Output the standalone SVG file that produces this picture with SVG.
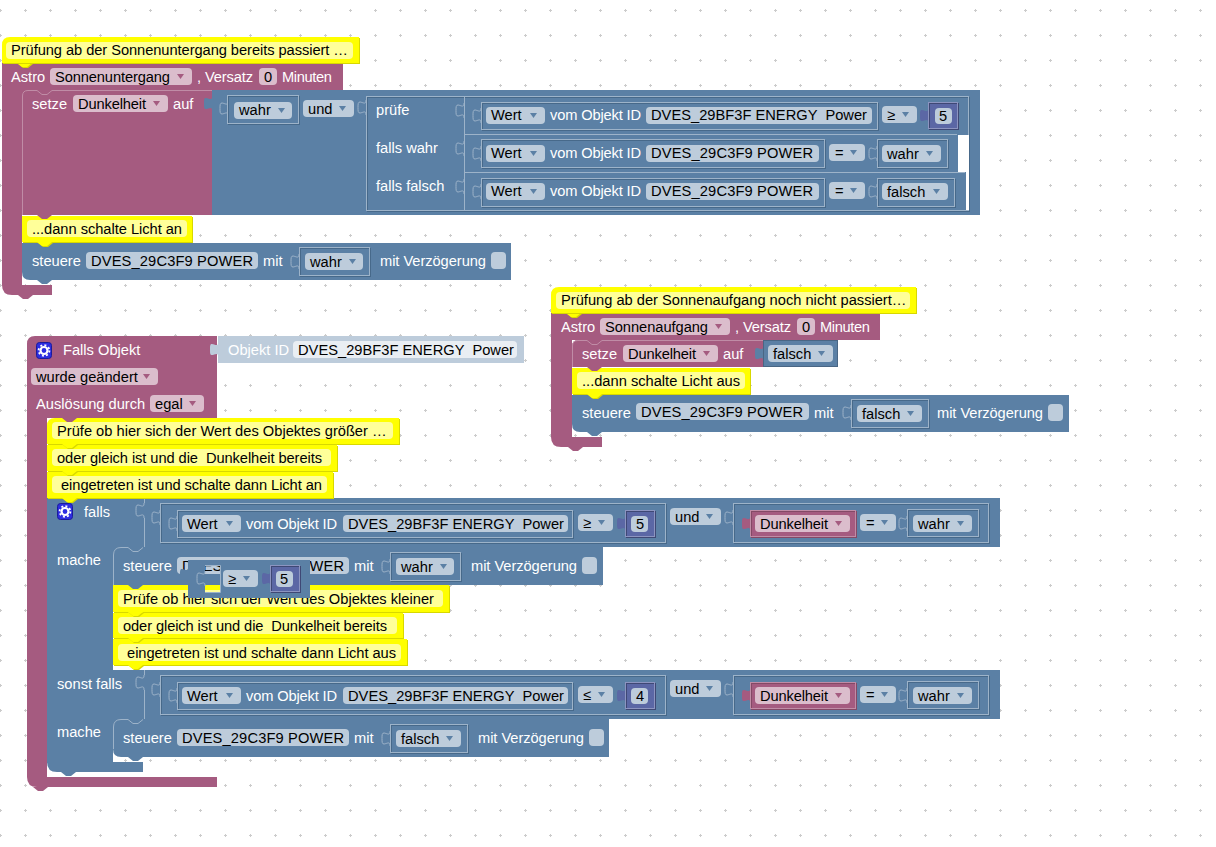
<svg xmlns="http://www.w3.org/2000/svg" width="1216" height="847" viewBox="0 0 1216 847">
<style>
text{font-family:"Liberation Sans",Arial,sans-serif;font-size:14.67px;white-space:pre}
.t{fill:#fff}.k{fill:#000}
.b{fill:#5b80a5}.p{fill:#a55b80}.i{fill:#5b67a5}.y{fill:#ff0;filter:drop-shadow(1px 1px 0 #d8d800)}.yi{fill:#ffff99}
.fb{fill:#bdccdb}.fp{fill:#dbbdcc}.fo{fill:#e9eef3}
.o{fill:none;stroke:#9db3c9;filter:drop-shadow(1px 1px 0 #47698a)}
.op{fill:none;stroke:#c08ca6;filter:drop-shadow(1px 1px 0 #844966)}
.oi{fill:none;stroke:#8c94c0;filter:drop-shadow(1px 1px 0 #3f4875)}
.s{fill:none;stroke:#9db3c9}.hp{fill:none;stroke:#c08ca6}
.ab{fill:#5b80a5}.ap{fill:#a55b80}
</style>
<defs>
<pattern id="g" x="-12" y="-2" width="25" height="25" patternUnits="userSpaceOnUse"><rect x="12" y="11" width="1" height="3" fill="#ccc"/><rect x="11" y="12" width="3" height="1" fill="#ccc"/></pattern>
<path id="t" d="M8 0V1C8 5 4 2 2 2C0 2 0 4 0 7.500C0 11 0 13 2 13C4 13 8 10 8 14V15"/>
<path id="n" d="M0 0l5 4h5l5-4z"/>
<polygon id="a" points="0,0 7,0 3.500,5"/>
<g id="gear"><rect x=".5" y=".5" width="15" height="16" rx="3" fill="#2d2de0" stroke="#1b1b9a"/><circle cx="8" cy="8.500" r="3.500" fill="none" stroke="#fff" stroke-width="2.200"/><circle cx="8" cy="8.500" r="5.400" fill="none" stroke="#fff" stroke-width="1.800" stroke-dasharray="2 2.200"/></g>
</defs>
<rect width="1216" height="847" fill="#fff"/>
<rect width="1216" height="847" fill="url(#g)"/>

<g id="astro-untergang">
<path class="p" d="M2 63H343V90H22V285H52V295H33l-5 4h-5l-5-4H12Q2 295 2 285Z"/>
<g id="comment-1"><use href="#n" x="17" y="63" class="y"/><path class="y" d="M10 37H359V63H2V45Q2 37 10 37Z"/><rect class="yi" x="6" y="42" width="347" height="17" rx="4"/><text class="k" x="11" y="55" textLength="337">Prüfung ab der Sonnenuntergang bereits passiert …</text></g>
<text class="t" x="11" y="82">Astro</text><rect class="fp" x="50" y="68" width="142" height="17" rx="4"/><text class="k" x="55" y="82" textLength="115">Sonnenuntergang</text><use href="#a" class="ap" x="177" y="74"/>
<text class="t" x="197" y="82" textLength="56">, Versatz</text><rect class="fp" x="259" y="68" width="18" height="17" rx="4"/><text class="k" x="264" y="82">0</text><text class="t" x="282" y="82" textLength="50">Minuten</text>
</g>
<g id="setze-1">
<rect class="p" x="22" y="90" width="190" height="125"/>
<path class="hp" d="M22.500 215V96Q22.500 90.500 28 90.500H37l5 4h5l5-4H212"/>
<text class="t" x="32" y="109">setze</text><rect class="fp" x="73" y="95" width="95" height="17" rx="4"/><text class="k" x="78" y="109" textLength="68">Dunkelheit</text><use href="#a" class="ap" x="153" y="101"/><text class="t" x="173" y="109">auf</text>
<use href="#t" x="204" y="96" class="b"/>
<rect class="b" x="212" y="90" width="768" height="125"/>
<use href="#t" x="220" y="101" class="s"/><rect class="o" x="227.500" y="95.500" width="71" height="28"/><rect class="fb" x="234" y="102" width="58" height="17" rx="4"/><text class="k" x="239" y="115">wahr</text><use href="#a" class="ab" x="278" y="108"/>
<rect class="fb" x="303" y="100" width="51" height="17" rx="4"/><text class="k" x="308" y="114">und</text><use href="#a" class="ab" x="339" y="106"/>
<use href="#t" x="358" y="100" class="s"/>
<rect class="o" x="366.500" y="96.500" width="602" height="114"/>
<rect x="958" y="135" width="11" height="37" fill="#fff"/><rect x="966" y="172" width="3" height="38" fill="#fff"/>
<path class="s" d="M464.500 96V211M464 134.500H957M464 172.500H965"/>
<text class="t" x="376" y="115">prüfe</text><text class="t" x="376" y="153">falls wahr</text><text class="t" x="376" y="191">falls falsch</text>
<use href="#t" x="456" y="103" class="s"/><use href="#t" x="456" y="141" class="s"/><use href="#t" x="456" y="179" class="s"/>
<use href="#t" x="473" y="108" class="s"/><use href="#t" x="473" y="146" class="s"/><use href="#t" x="473" y="184" class="s"/>
<rect class="o" x="481.500" y="102.500" width="396" height="27"/><rect class="fb" x="486" y="107" width="59" height="17" rx="4"/><text class="k" x="491" y="120">Wert</text><use href="#a" class="ab" x="530" y="113"/><text class="t" x="550" y="120" textLength="91">vom Objekt ID</text><rect class="fb" x="646" y="107" width="226" height="17" rx="4"/><text class="k" x="651" y="120" textLength="216">DVES_29BF3F ENERGY  Power</text>
<rect class="fb" x="882" y="106" width="35" height="17" rx="4"/><text class="k" x="887" y="120">≥</text><use href="#a" class="ab" x="902" y="112"/>
<use href="#t" x="920" y="108" class="i"/><rect class="i" x="928" y="102" width="30" height="27"/><rect class="oi" x="928.500" y="102.500" width="29" height="26"/><rect class="fb" x="935" y="108" width="17" height="16" rx="4"/><text class="k" x="939" y="121">5</text>
<rect class="o" x="481.500" y="139.500" width="343" height="28"/><rect class="fb" x="486" y="145" width="59" height="17" rx="4"/><text class="k" x="491" y="158">Wert</text><use href="#a" class="ab" x="530" y="151"/><text class="t" x="550" y="158" textLength="91">vom Objekt ID</text><rect class="fb" x="646" y="145" width="173" height="17" rx="4"/><text class="k" x="651" y="158" textLength="162">DVES_29C3F9 POWER</text>
<rect class="fb" x="829" y="144" width="36" height="17" rx="4"/><text class="k" x="835" y="158">=</text><use href="#a" class="ab" x="850" y="150"/>
<use href="#t" x="869" y="146" class="s"/><rect class="o" x="877.500" y="139.500" width="70" height="28"/><rect class="fb" x="882" y="145" width="59" height="17" rx="4"/><text class="k" x="887" y="159">wahr</text><use href="#a" class="ab" x="926" y="151"/>
<rect class="o" x="481.500" y="178.500" width="343" height="28"/><rect class="fb" x="486" y="183" width="59" height="17" rx="4"/><text class="k" x="491" y="196">Wert</text><use href="#a" class="ab" x="530" y="189"/><text class="t" x="550" y="196" textLength="91">vom Objekt ID</text><rect class="fb" x="646" y="183" width="173" height="17" rx="4"/><text class="k" x="651" y="196" textLength="162">DVES_29C3F9 POWER</text>
<rect class="fb" x="829" y="182" width="36" height="17" rx="4"/><text class="k" x="835" y="196">=</text><use href="#a" class="ab" x="850" y="188"/>
<use href="#t" x="869" y="184" class="s"/><rect class="o" x="877.500" y="178.500" width="77" height="28"/><rect class="fb" x="882" y="183" width="66" height="17" rx="4"/><text class="k" x="887" y="197">falsch</text><use href="#a" class="ab" x="933" y="189"/>
</g>
<g id="comment-2"><use href="#n" x="37" y="242" class="y"/><rect class="y" x="22" y="216" width="170" height="26"/><use href="#n" x="37" y="215" class="p"/><rect class="yi" x="27" y="220" width="160" height="17" rx="4"/><text class="k" x="32" y="234" textLength="150">...dann schalte Licht an</text></g>
<g id="steuere-1">
<path class="b" d="M22 243H511V280H52l-5 4h-5l-5-4H30Q22 280 22 272Z"/>
<use href="#n" x="37" y="242" class="y"/>
<text class="t" x="32" y="266">steuere</text><rect class="fb" x="86" y="252" width="172" height="17" rx="4"/><text class="k" x="91" y="266" textLength="162">DVES_29C3F9 POWER</text><text class="t" x="263" y="266">mit</text>
<use href="#t" x="291" y="254" class="s"/><rect class="o" x="299.500" y="247.500" width="70" height="28"/><rect class="fb" x="305" y="253" width="58" height="17" rx="4"/><text class="k" x="310" y="267">wahr</text><use href="#a" class="ab" x="349" y="259"/>
<text class="t" x="380" y="266" textLength="106">mit Verzögerung</text><rect class="fb" x="491" y="252" width="15" height="17" rx="4"/>
</g>

<g id="astro-aufgang">
<path class="p" d="M551 313H880V340H572V437H602V447H583l-5 4h-5l-5-4H561Q551 447 551 437Z"/>
<g id="comment-3"><use href="#n" x="566" y="313" class="y"/><path class="y" d="M559 287H916V313H551V295Q551 287 559 287Z"/><rect class="yi" x="556" y="292" width="354" height="17" rx="4"/><text class="k" x="561" y="305">Prüfung ab der Sonnenaufgang noch nicht passiert…</text></g>
<text class="t" x="561" y="332">Astro</text><rect class="fp" x="600" y="318" width="130" height="17" rx="4"/><text class="k" x="605" y="332" textLength="103">Sonnenaufgang</text><use href="#a" class="ap" x="715" y="324"/>
<text class="t" x="735" y="332" textLength="56">, Versatz</text><rect class="fp" x="797" y="318" width="18" height="17" rx="4"/><text class="k" x="802" y="332">0</text><text class="t" x="820" y="332" textLength="50">Minuten</text>
</g>
<g id="setze-2">
<path class="p" d="M572 346Q572 340 578 340H763V367H572Z"/>
<path class="hp" d="M572.500 367V346Q572.500 340.500 578 340.500H587l5 4h5l5-4H763"/>
<text class="t" x="582" y="359">setze</text><rect class="fp" x="623" y="345" width="95" height="17" rx="4"/><text class="k" x="628" y="359" textLength="68">Dunkelheit</text><use href="#a" class="ap" x="703" y="351"/><text class="t" x="723" y="359">auf</text>
<use href="#t" x="755" y="346" class="b"/>
<rect class="b" x="763" y="340" width="75" height="27"/><rect class="o" x="763.500" y="340.500" width="74" height="26" style="filter:none;stroke:#496684"/><rect class="fb" x="768" y="345" width="65" height="17" rx="4"/><text class="k" x="773" y="359">falsch</text><use href="#a" class="ab" x="818" y="351"/>
</g>
<g id="comment-4"><rect class="y" x="572" y="368" width="178" height="26"/><use href="#n" x="587" y="367" class="p"/><rect class="yi" x="577" y="372" width="168" height="17" rx="4"/><text class="k" x="582" y="386">...dann schalte Licht aus</text></g>
<g id="steuere-2">
<path class="b" d="M572 395H1069V432H602l-5 4h-5l-5-4H580Q572 432 572 424Z"/>
<use href="#n" x="587" y="394" class="y"/>
<text class="t" x="582" y="418">steuere</text><rect class="fb" x="636" y="403" width="173" height="17" rx="4"/><text class="k" x="641" y="417" textLength="162">DVES_29C3F9 POWER</text><text class="t" x="814" y="418">mit</text>
<use href="#t" x="843" y="405" class="s"/><rect class="o" x="851.500" y="399.500" width="77" height="28"/><rect class="fb" x="857" y="405" width="65" height="17" rx="4"/><text class="k" x="862" y="419">falsch</text><use href="#a" class="ab" x="907" y="411"/>
<text class="t" x="937" y="418" textLength="106">mit Verzögerung</text><rect class="fb" x="1048" y="404" width="15" height="17" rx="4"/>
</g>

<g id="falls-objekt">
<path class="p" d="M35 336H217V418H47V777H217V787H48l-5 4h-5l-5-4H37Q27 787 27 777V344Q27 336 35 336Z"/>
<use href="#t" x="210" y="342" class="fb"/>
<g id="objekt-id"><rect class="fb" x="218" y="336" width="306" height="27"/><text class="t" x="228" y="355">Objekt ID</text><rect class="fo" x="293" y="341" width="224" height="17" rx="4"/><text class="k" x="298" y="355" textLength="216">DVES_29BF3F ENERGY  Power</text></g>
<use href="#gear" x="36" y="342"/><text class="t" x="63" y="355">Falls Objekt</text>
<rect class="fp" x="31" y="368" width="127" height="17" rx="4"/><text class="k" x="36" y="382">wurde geändert</text><use href="#a" class="ap" x="143" y="374"/>
<text class="t" x="36" y="409">Auslösung durch</text><rect class="fp" x="150" y="395" width="54" height="17" rx="4"/><text class="k" x="155" y="409">egal</text><use href="#a" class="ap" x="189" y="401"/>
</g>
<g id="falls-block">
<path class="b" d="M47 498H1000V547H113V762H143V772H76l-5 4h-5l-5-4H57Q47 772 47 762Z"/>
<rect class="b" x="113" y="670" width="887" height="49"/>
<rect class="b" x="113" y="540" width="31" height="20"/>
<rect class="b" x="113" y="715" width="31" height="15"/>
<rect x="113" y="665" width="31" height="5" fill="#fff"/>
<use href="#gear" x="57" y="503"/><text class="t" x="84" y="517">falls</text>
<path class="s" d="M144.500 498V503M144.500 518V547M144.500 670V675M144.500 690V719"/>
<use href="#t" x="136" y="503" class="s"/><use href="#t" x="136" y="675" class="s"/>
<use href="#t" x="152" y="510" class="s"/><use href="#t" x="152" y="682" class="s"/>
<rect class="o" x="160.500" y="503.500" width="505" height="39"/><rect class="o" x="733.500" y="503.500" width="255" height="39"/>
<use href="#t" x="169" y="516" class="s"/>
<rect class="o" x="177.500" y="510.500" width="395" height="27"/><rect class="fb" x="182" y="515" width="59" height="17" rx="4"/><text class="k" x="187" y="529">Wert</text><use href="#a" class="ab" x="226" y="521"/><text class="t" x="246" y="529" textLength="91">vom Objekt ID</text><rect class="fb" x="343" y="515" width="225" height="17" rx="4"/><text class="k" x="348" y="529" textLength="216">DVES_29BF3F ENERGY  Power</text>
<rect class="fb" x="578" y="514" width="35" height="17" rx="4"/><text class="k" x="583" y="528">≥</text><use href="#a" class="ab" x="598" y="520"/>
<use href="#t" x="617" y="516" class="i"/><rect class="i" x="625" y="510" width="30" height="27"/><rect class="oi" x="625.500" y="510.500" width="29" height="26"/><rect class="fb" x="631" y="516" width="17" height="16" rx="4"/><text class="k" x="636" y="529">5</text>
<rect class="fb" x="670" y="508" width="51" height="17" rx="4"/><text class="k" x="675" y="522">und</text><use href="#a" class="ab" x="706" y="514"/><use href="#t" x="725" y="510" class="s"/>
<use href="#t" x="742" y="516" class="p"/><rect class="p" x="750" y="510" width="106" height="27"/><rect class="op" x="750.500" y="510.500" width="105" height="26"/><rect class="fp" x="755" y="515" width="95" height="17" rx="4"/><text class="k" x="760" y="529" textLength="68">Dunkelheit</text><use href="#a" class="ap" x="835" y="521"/>
<rect class="fb" x="860" y="514" width="36" height="17" rx="4"/><text class="k" x="866" y="528">=</text><use href="#a" class="ab" x="881" y="520"/>
<use href="#t" x="899" y="516" class="s"/><rect class="o" x="907.500" y="509.500" width="71" height="27"/><rect class="fb" x="913" y="515" width="59" height="17" rx="4"/><text class="k" x="918" y="529">wahr</text><use href="#a" class="ab" x="957" y="521"/>
<text class="t" x="57" y="565">mache</text>
<text class="t" x="57" y="689">sonst falls</text>
<rect class="o" x="160.500" y="675.500" width="505" height="39"/><rect class="o" x="733.500" y="675.500" width="255" height="39"/>
<use href="#t" x="169" y="688" class="s"/>
<rect class="o" x="177.500" y="682.500" width="395" height="27"/><rect class="fb" x="182" y="687" width="59" height="17" rx="4"/><text class="k" x="187" y="701">Wert</text><use href="#a" class="ab" x="226" y="693"/><text class="t" x="246" y="701" textLength="91">vom Objekt ID</text><rect class="fb" x="343" y="687" width="225" height="17" rx="4"/><text class="k" x="348" y="701" textLength="216">DVES_29BF3F ENERGY  Power</text>
<rect class="fb" x="578" y="686" width="35" height="17" rx="4"/><text class="k" x="583" y="700">≤</text><use href="#a" class="ab" x="598" y="692"/>
<use href="#t" x="617" y="688" class="i"/><rect class="i" x="625" y="682" width="30" height="27"/><rect class="oi" x="625.500" y="682.500" width="29" height="26"/><rect class="fb" x="631" y="688" width="17" height="16" rx="4"/><text class="k" x="636" y="701">4</text>
<rect class="fb" x="670" y="680" width="51" height="17" rx="4"/><text class="k" x="675" y="694">und</text><use href="#a" class="ab" x="706" y="686"/><use href="#t" x="725" y="682" class="s"/>
<use href="#t" x="742" y="688" class="p"/><rect class="p" x="750" y="682" width="106" height="27"/><rect class="op" x="750.500" y="682.500" width="105" height="26"/><rect class="fp" x="755" y="687" width="95" height="17" rx="4"/><text class="k" x="760" y="701" textLength="68">Dunkelheit</text><use href="#a" class="ap" x="835" y="693"/>
<rect class="fb" x="860" y="686" width="36" height="17" rx="4"/><text class="k" x="866" y="700">=</text><use href="#a" class="ab" x="881" y="692"/>
<use href="#t" x="899" y="688" class="s"/><rect class="o" x="907.500" y="681.500" width="71" height="27"/><rect class="fb" x="913" y="687" width="59" height="17" rx="4"/><text class="k" x="918" y="701">wahr</text><use href="#a" class="ab" x="957" y="693"/>
<text class="t" x="57" y="737">mache</text>
</g>
<g id="comment-5"><use href="#n" x="62" y="444" class="y"/><path class="y" d="M55 418H399V444H47V426Q47 418 55 418Z"/><use href="#n" x="62" y="418" class="p"/><rect class="yi" x="52" y="422" width="341" height="17" rx="4"/><text class="k" x="57" y="436">Prüfe ob hier sich der Wert des Objektes größer …</text></g>
<g id="comment-6"><rect class="y" x="47" y="445" width="290" height="26"/><use href="#n" x="62" y="444" class="y"/><rect class="yi" x="52" y="449" width="279" height="17" rx="4"/><text class="k" x="57" y="463" textLength="265">oder gleich ist und die  Dunkelheit bereits</text></g>
<g id="comment-7"><rect class="y" x="47" y="472" width="286" height="26"/><use href="#n" x="62" y="471" class="y"/><use href="#n" x="62" y="498" class="y"/><rect class="yi" x="52" y="476" width="275" height="17" rx="4"/><text class="k" x="57" y="490" textLength="265"> eingetreten ist und schalte dann Licht an</text></g>
<g id="steuere-3">
<path class="b" d="M113 555Q113 547 121 547H603V585H113Z"/>
<path class="s" d="M113.500 585V555Q113.500 547.500 121 547.500H128l5 4h5l5-4"/>
<text class="t" x="123" y="571">steuere</text><rect class="fb" x="177" y="557" width="172" height="17" rx="4"/><text class="k" x="182" y="571" textLength="162">DVES_29C3F9 POWER</text><text class="t" x="354" y="571">mit</text>
<use href="#t" x="382" y="559" class="s"/><rect class="o" x="390.500" y="552.500" width="70" height="28"/><rect class="fb" x="396" y="558" width="58" height="17" rx="4"/><text class="k" x="401" y="572">wahr</text><use href="#a" class="ab" x="440" y="564"/>
<text class="t" x="471" y="571" textLength="106">mit Verzögerung</text><rect class="fb" x="582" y="557" width="15" height="17" rx="4"/>
</g>
<g id="comment-8"><rect class="y" x="113" y="585" width="336" height="27"/><use href="#n" x="128" y="585" class="b"/><use href="#n" x="128" y="612" class="y"/><rect class="yi" x="118" y="590" width="325" height="17" rx="4"/><text class="k" x="123" y="604">Prüfe ob hier sich der Wert des Objektes kleiner</text></g>
<g id="comment-9"><rect class="y" x="113" y="613" width="290" height="25"/><use href="#n" x="128" y="612" class="y"/><rect class="yi" x="118" y="617" width="279" height="17" rx="4"/><text class="k" x="123" y="631" textLength="264">oder gleich ist und die  Dunkelheit bereits</text></g>
<g id="comment-10"><rect class="y" x="113" y="639" width="294" height="26"/><use href="#n" x="128" y="638" class="y"/><use href="#n" x="128" y="665" class="y"/><rect class="yi" x="118" y="644" width="283" height="17" rx="4"/><text class="k" x="123" y="658" textLength="273"> eingetreten ist und schalte dann Licht aus</text></g>
<g id="steuere-4">
<path class="b" d="M113 727Q113 719 121 719H609V757H143l-5 4h-5l-5-4H121Q113 757 113 749Z"/>
<path class="s" d="M113.500 749V727Q113.500 719.500 121 719.500H128l5 4h5l5-4"/>
<text class="t" x="123" y="743">steuere</text><rect class="fb" x="177" y="729" width="172" height="17" rx="4"/><text class="k" x="182" y="743" textLength="162">DVES_29C3F9 POWER</text><text class="t" x="354" y="743">mit</text>
<use href="#t" x="382" y="731" class="s"/><rect class="o" x="390.500" y="724.500" width="77" height="28"/><rect class="fb" x="396" y="730" width="65" height="17" rx="4"/><text class="k" x="401" y="744">falsch</text><use href="#a" class="ab" x="446" y="736"/>
<text class="t" x="478" y="743" textLength="106">mit Verzögerung</text><rect class="fb" x="589" y="729" width="15" height="17" rx="4"/>
</g>
<g id="drag-compare">
<use href="#t" x="180" y="567" class="b"/>
<path class="b" fill-rule="evenodd" d="M188 560H310V598H188ZM205 565V592H220V565Z"/>
<use href="#t" x="197" y="571" class="s"/><path class="s" d="M205 565.500H220.500V592.500H205"/>
<rect class="fb" x="223" y="570" width="35" height="17" rx="4"/><text class="k" x="228" y="584">≥</text><use href="#a" class="ab" x="243" y="576"/>
<use href="#t" x="262" y="571" class="i"/><rect class="i" x="270" y="565" width="30" height="27"/><rect class="oi" x="270.500" y="565.500" width="29" height="26"/><rect class="fb" x="276" y="571" width="17" height="16" rx="4"/><text class="k" x="280" y="584">5</text>
</g>
</svg>
